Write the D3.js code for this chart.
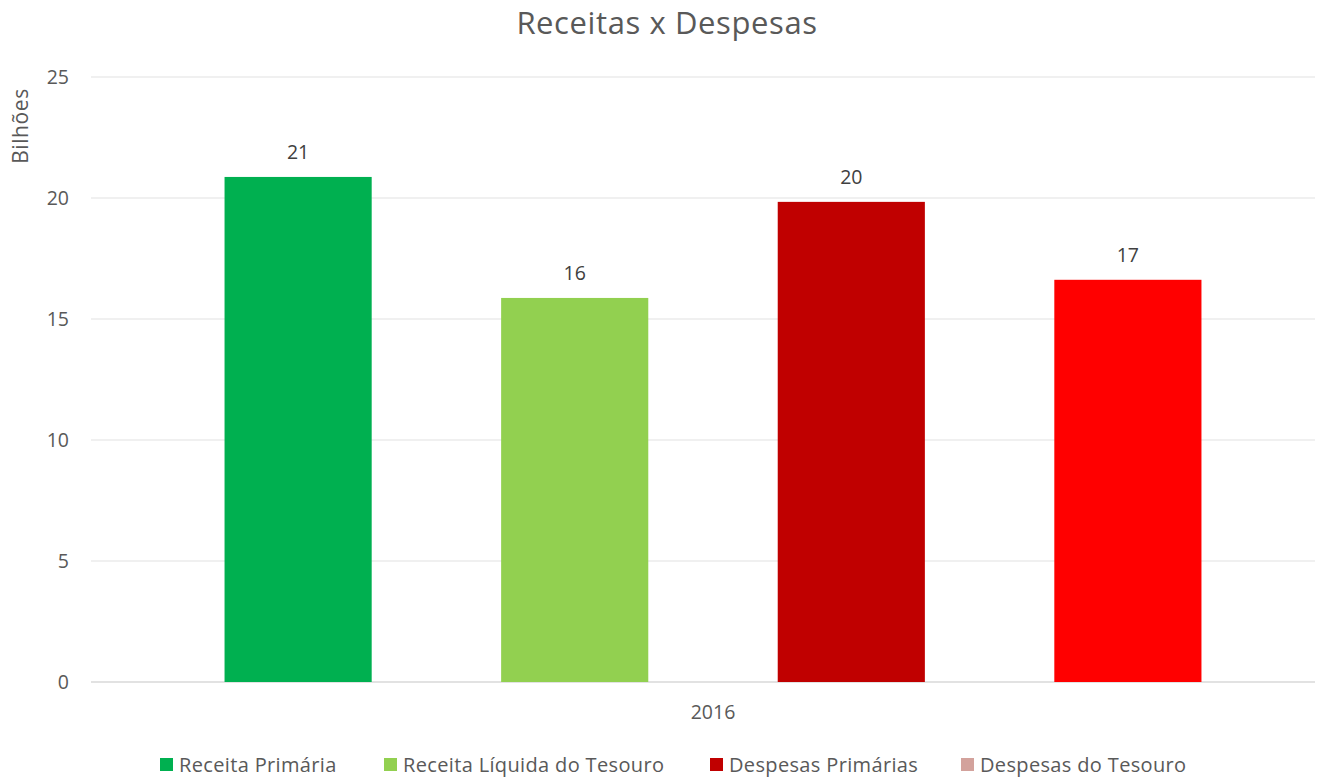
<!DOCTYPE html>
<html>
<head>
<meta charset="utf-8">
<script src="https://cdn.jsdelivr.net/npm/d3@7"></script>
<style>
  html, body { margin: 0; padding: 0; background: #fff; }
  svg { display: block; font-family: "Open Sans", sans-serif; }
</style>
</head>
<body>
<svg id="chart" width="1317" height="777"></svg>
<script>
// Receitas x Despesas — valores em bilhões, ano 2016
const categories = ["2016"];
const seriesNames = ["Receita Primária", "Receita Líquida do Tesouro", "Despesas Primárias", "Despesas do Tesouro"];
const seriesValues = [20.87, 15.87, 19.84, 16.62];
const valueLabels = ["21", "16", "20", "17"];
const barColors = ["#00b050", "#92d050", "#c00000", "#ff0000"];
const legendColors = ["#00b050", "#92d050", "#c00000", "#d3a29c"];
const yTicks = [0, 5, 10, 15, 20, 25];

const svg = d3.select("#chart");
const W = 1317, H = 777;
const margin = { top: 77, right: 2, bottom: 95, left: 91 };
const innerW = W - margin.left - margin.right;
const innerH = H - margin.top - margin.bottom;
const textColor = "#595959";

const g = svg.append("g").attr("transform", `translate(${margin.left},${margin.top})`);

const y = d3.scaleLinear().domain([0, 25]).range([innerH, 0]);
const x0 = d3.scaleBand().domain(categories).range([0, 1244]).paddingInner(0).paddingOuter(0.1367);
const x1 = d3.scaleBand().domain(seriesNames).range([0, x0.bandwidth()]).paddingInner(0.468).paddingOuter(0);

// horizontal gridlines
g.append("g")
  .selectAll("line")
  .data(yTicks)
  .join("line")
  .attr("x1", 0).attr("x2", innerW)
  .attr("y1", d => y(d)).attr("y2", d => y(d))
  .attr("stroke", d => d === 0 ? "#d9d9d9" : "#ebebeb")
  .attr("stroke-width", 1.3);

// y axis tick labels
const yAxis = d3.axisLeft(y).tickValues(yTicks).tickSize(0).tickPadding(22);
g.append("g").call(yAxis)
  .call(s => s.select(".domain").remove())
  .call(s => s.selectAll("text").attr("fill", textColor).attr("font-size", 19.5).attr("font-family", "Open Sans, sans-serif"));

// y axis title
svg.append("text")
  .attr("transform", "translate(28,126) rotate(-90)")
  .attr("text-anchor", "middle")
  .attr("fill", textColor)
  .attr("font-size", 21)
  .attr("letter-spacing", 0.6)
  .text("Bilhões");

// x axis category labels
const xAxis = d3.axisBottom(x0).tickSize(0).tickPadding(23);
g.append("g").attr("transform", `translate(0,${innerH})`).call(xAxis)
  .call(s => s.select(".domain").remove())
  .call(s => s.selectAll("text").attr("fill", textColor).attr("font-size", 19.5).attr("font-family", "Open Sans, sans-serif"));

// bars
const groups = g.selectAll(".cat")
  .data(categories)
  .join("g")
  .attr("transform", d => `translate(${x0(d)},0)`);

const rows = seriesNames.map((name, i) => ({ name, value: seriesValues[i], label: valueLabels[i], color: barColors[i] }));

groups.selectAll("rect")
  .data(rows)
  .join("rect")
  .attr("x", d => x1(d.name))
  .attr("width", x1.bandwidth())
  .attr("y", d => y(d.value))
  .attr("height", d => innerH - y(d.value))
  .attr("fill", d => d.color);

// data labels
groups.selectAll("text.val")
  .data(rows)
  .join("text")
  .attr("class", "val")
  .attr("x", d => x1(d.name) + x1.bandwidth() / 2)
  .attr("y", d => y(d.value) - 18)
  .attr("text-anchor", "middle")
  .attr("fill", "#404040")
  .attr("font-size", 19.5)
  .text(d => d.label);

// title
svg.append("text")
  .attr("x", 667)
  .attr("y", 34)
  .attr("text-anchor", "middle")
  .attr("fill", textColor)
  .attr("font-size", 31)
  .attr("letter-spacing", 0.6)
  .text("Receitas x Despesas");

// legend
const legendX = [160, 384, 710, 961];
const legend = svg.append("g").selectAll("g")
  .data(seriesNames)
  .join("g")
  .attr("transform", (d, i) => `translate(${legendX[i]},758)`);
legend.append("rect").attr("width", 13).attr("height", 13).attr("fill", (d, i) => legendColors[i]);
legend.append("text")
  .attr("x", 19).attr("y", 14)
  .attr("fill", textColor)
  .attr("font-size", 20)
  .attr("letter-spacing", 0.35)
  .text(d => d);
</script>
</body>
</html>
